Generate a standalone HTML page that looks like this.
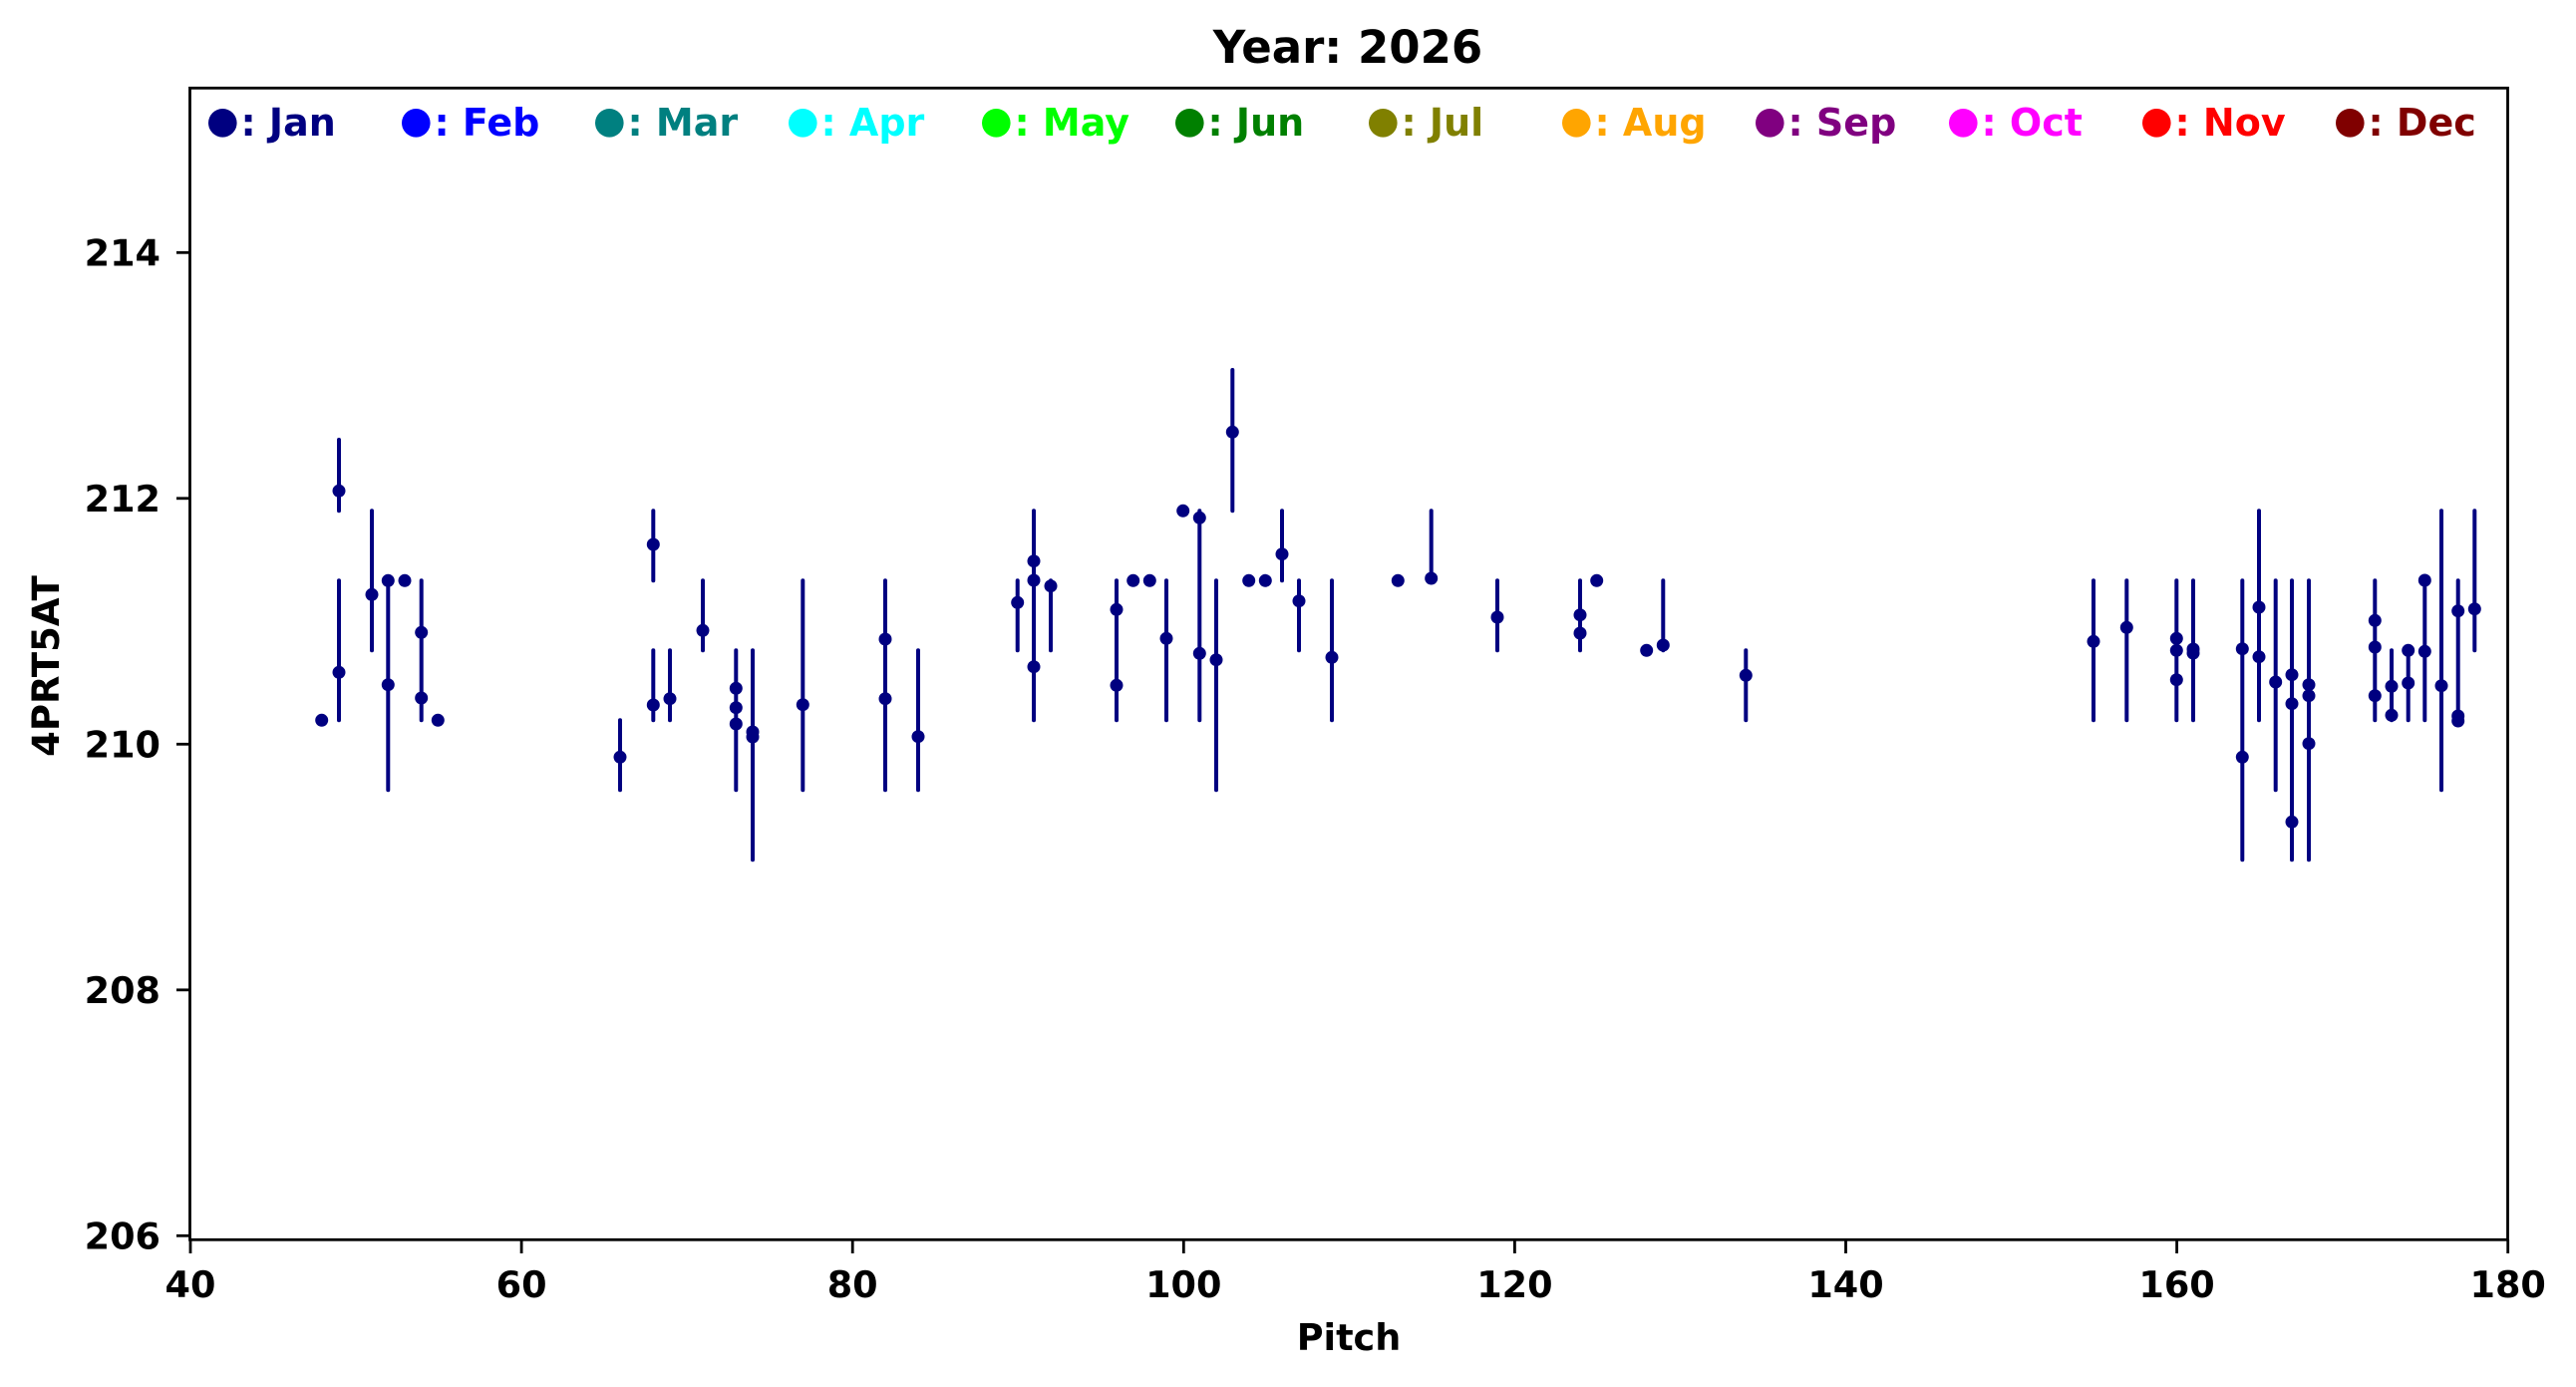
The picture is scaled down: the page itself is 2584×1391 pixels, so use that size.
<!DOCTYPE html>
<html><head><meta charset="utf-8"><style>
html,body{margin:0;padding:0;background:#fff;}
svg{display:block;}
text{font-family:"DejaVu Sans","Liberation Sans",sans-serif;font-weight:bold;}
</style></head><body>
<svg width="2584" height="1391" viewBox="0 0 2584 1391" xmlns="http://www.w3.org/2000/svg">
<rect width="2584" height="1391" fill="#fff"/>
<text x="1352" y="63" font-size="45" text-anchor="middle" fill="#000">Year: 2026</text>
<g stroke="#000080" stroke-width="4" stroke-linecap="round" fill="none">
<line x1="340" y1="441" x2="340" y2="512.3"/>
<line x1="340" y1="582.3" x2="340" y2="722.3"/>
<line x1="373" y1="512.3" x2="373" y2="652.3"/>
<line x1="389.3" y1="582.3" x2="389.3" y2="792.3"/>
<line x1="422.7" y1="582.3" x2="422.7" y2="722.3"/>
<line x1="622" y1="722.3" x2="622" y2="792.3"/>
<line x1="655.3" y1="512.3" x2="655.3" y2="582.3"/>
<line x1="655.3" y1="652.3" x2="655.3" y2="722.3"/>
<line x1="672" y1="652.3" x2="672" y2="722.3"/>
<line x1="705" y1="582.3" x2="705" y2="652.3"/>
<line x1="738.3" y1="652.3" x2="738.3" y2="792.3"/>
<line x1="755" y1="652.3" x2="755" y2="862.3"/>
<line x1="805.3" y1="582.3" x2="805.3" y2="792.3"/>
<line x1="888" y1="582.3" x2="888" y2="792.3"/>
<line x1="921" y1="652.3" x2="921" y2="792.3"/>
<line x1="1020.7" y1="582.3" x2="1020.7" y2="652.3"/>
<line x1="1037" y1="512.3" x2="1037" y2="722.3"/>
<line x1="1054" y1="582.3" x2="1054" y2="652.3"/>
<line x1="1120" y1="582.3" x2="1120" y2="722.3"/>
<line x1="1170" y1="582.3" x2="1170" y2="722.3"/>
<line x1="1203.3" y1="512.3" x2="1203.3" y2="722.3"/>
<line x1="1220" y1="582.3" x2="1220" y2="792.3"/>
<line x1="1236.3" y1="371" x2="1236.3" y2="512.3"/>
<line x1="1286" y1="512.3" x2="1286" y2="582.3"/>
<line x1="1303" y1="582.3" x2="1303" y2="652.3"/>
<line x1="1336" y1="582.3" x2="1336" y2="722.3"/>
<line x1="1435.7" y1="512.3" x2="1435.7" y2="580"/>
<line x1="1502" y1="582.3" x2="1502" y2="652.3"/>
<line x1="1585" y1="582.3" x2="1585" y2="652.3"/>
<line x1="1668.3" y1="582.3" x2="1668.3" y2="652.3"/>
<line x1="1751.3" y1="652.3" x2="1751.3" y2="722.3"/>
<line x1="2100" y1="582.3" x2="2100" y2="722.3"/>
<line x1="2133.3" y1="582.3" x2="2133.3" y2="722.3"/>
<line x1="2183.3" y1="582.3" x2="2183.3" y2="722.3"/>
<line x1="2200" y1="582.3" x2="2200" y2="722.3"/>
<line x1="2249.3" y1="582.3" x2="2249.3" y2="862.3"/>
<line x1="2266" y1="512.3" x2="2266" y2="722.3"/>
<line x1="2282.7" y1="582.3" x2="2282.7" y2="792.3"/>
<line x1="2299" y1="582.3" x2="2299" y2="862.3"/>
<line x1="2316" y1="582.3" x2="2316" y2="862.3"/>
<line x1="2382.3" y1="582.3" x2="2382.3" y2="722.3"/>
<line x1="2399" y1="652.3" x2="2399" y2="722.3"/>
<line x1="2415.7" y1="652.3" x2="2415.7" y2="722.3"/>
<line x1="2432.3" y1="582.3" x2="2432.3" y2="722.3"/>
<line x1="2449" y1="512.3" x2="2449" y2="792.3"/>
<line x1="2465.7" y1="582.3" x2="2465.7" y2="722.3"/>
<line x1="2482.3" y1="512.3" x2="2482.3" y2="652.3"/>
</g>
<g fill="#000080">
<circle cx="322.7" cy="722.3" r="6.5"/>
<circle cx="340" cy="492.3" r="6.5"/>
<circle cx="340" cy="674.3" r="6.5"/>
<circle cx="373" cy="596.3" r="6.5"/>
<circle cx="389.3" cy="582.3" r="6.5"/>
<circle cx="389.3" cy="686.7" r="6.5"/>
<circle cx="406" cy="582.3" r="6.5"/>
<circle cx="422.7" cy="634.3" r="6.5"/>
<circle cx="422.7" cy="700" r="6.5"/>
<circle cx="439.3" cy="722.3" r="6.5"/>
<circle cx="622" cy="759.3" r="6.5"/>
<circle cx="655.3" cy="546" r="6.5"/>
<circle cx="655.3" cy="707" r="6.5"/>
<circle cx="672" cy="700.7" r="6.5"/>
<circle cx="705" cy="632.3" r="6.5"/>
<circle cx="738.3" cy="690.3" r="6.5"/>
<circle cx="738.3" cy="709.7" r="6.5"/>
<circle cx="738.3" cy="726" r="6.5"/>
<circle cx="755" cy="734" r="6.5"/>
<circle cx="755" cy="739" r="6.5"/>
<circle cx="805.3" cy="706.7" r="6.5"/>
<circle cx="888" cy="641" r="6.5"/>
<circle cx="888" cy="700.7" r="6.5"/>
<circle cx="921" cy="738.7" r="6.5"/>
<circle cx="1020.7" cy="604.3" r="6.5"/>
<circle cx="1037" cy="562.7" r="6.5"/>
<circle cx="1037" cy="582" r="6.5"/>
<circle cx="1037" cy="668.7" r="6.5"/>
<circle cx="1054" cy="587.7" r="6.5"/>
<circle cx="1120" cy="611.3" r="6.5"/>
<circle cx="1120" cy="687.3" r="6.5"/>
<circle cx="1136.7" cy="582.3" r="6.5"/>
<circle cx="1153.3" cy="582.3" r="6.5"/>
<circle cx="1170" cy="640.3" r="6.5"/>
<circle cx="1186.7" cy="512.3" r="6.5"/>
<circle cx="1203.3" cy="519.3" r="6.5"/>
<circle cx="1203.3" cy="655.3" r="6.5"/>
<circle cx="1220" cy="661.7" r="6.5"/>
<circle cx="1236.3" cy="433.3" r="6.5"/>
<circle cx="1252.7" cy="582.3" r="6.5"/>
<circle cx="1269.3" cy="582.3" r="6.5"/>
<circle cx="1286" cy="555.7" r="6.5"/>
<circle cx="1303" cy="602.7" r="6.5"/>
<circle cx="1336" cy="659.3" r="6.5"/>
<circle cx="1402.3" cy="582.3" r="6.5"/>
<circle cx="1435.7" cy="580" r="6.5"/>
<circle cx="1502" cy="619" r="6.5"/>
<circle cx="1585" cy="616.7" r="6.5"/>
<circle cx="1585" cy="635" r="6.5"/>
<circle cx="1601.7" cy="582.3" r="6.5"/>
<circle cx="1651.7" cy="652.3" r="6.5"/>
<circle cx="1668.3" cy="647" r="6.5"/>
<circle cx="1751.3" cy="677.3" r="6.5"/>
<circle cx="2100" cy="643.3" r="6.5"/>
<circle cx="2133.3" cy="629.3" r="6.5"/>
<circle cx="2183.3" cy="640.3" r="6.5"/>
<circle cx="2183.3" cy="652.3" r="6.5"/>
<circle cx="2183.3" cy="681.7" r="6.5"/>
<circle cx="2200" cy="651" r="6.5"/>
<circle cx="2200" cy="655" r="6.5"/>
<circle cx="2249.3" cy="650.7" r="6.5"/>
<circle cx="2249.3" cy="759.3" r="6.5"/>
<circle cx="2266" cy="609" r="6.5"/>
<circle cx="2266" cy="658.7" r="6.5"/>
<circle cx="2282.7" cy="684" r="6.5"/>
<circle cx="2299" cy="676.7" r="6.5"/>
<circle cx="2299" cy="705.7" r="6.5"/>
<circle cx="2299" cy="824.3" r="6.5"/>
<circle cx="2316" cy="686.7" r="6.5"/>
<circle cx="2316" cy="697.7" r="6.5"/>
<circle cx="2316" cy="745.7" r="6.5"/>
<circle cx="2382.3" cy="622.3" r="6.5"/>
<circle cx="2382.3" cy="649" r="6.5"/>
<circle cx="2382.3" cy="697.7" r="6.5"/>
<circle cx="2399" cy="688.3" r="6.5"/>
<circle cx="2399" cy="717.3" r="6.5"/>
<circle cx="2415.7" cy="652.3" r="6.5"/>
<circle cx="2415.7" cy="685" r="6.5"/>
<circle cx="2432.3" cy="582" r="6.5"/>
<circle cx="2432.3" cy="653.3" r="6.5"/>
<circle cx="2449" cy="687.7" r="6.5"/>
<circle cx="2465.7" cy="612.7" r="6.5"/>
<circle cx="2465.7" cy="718" r="6.5"/>
<circle cx="2465.7" cy="723" r="6.5"/>
<circle cx="2482.3" cy="610.7" r="6.5"/>
</g>
<rect x="190.5" y="88.3" width="2325" height="1155" fill="none" stroke="#000" stroke-width="2.8"/>
<g stroke="#000" stroke-width="2.8">
<line x1="177" y1="253.3" x2="190.5" y2="253.3"/>
<line x1="177" y1="499.8" x2="190.5" y2="499.8"/>
<line x1="177" y1="746.3" x2="190.5" y2="746.3"/>
<line x1="177" y1="992.8" x2="190.5" y2="992.8"/>
<line x1="177" y1="1239.3" x2="190.5" y2="1239.3"/>
<line x1="191" y1="1243.3" x2="191" y2="1257"/>
<line x1="523.1" y1="1243.3" x2="523.1" y2="1257"/>
<line x1="855.2" y1="1243.3" x2="855.2" y2="1257"/>
<line x1="1187.3" y1="1243.3" x2="1187.3" y2="1257"/>
<line x1="1519.4" y1="1243.3" x2="1519.4" y2="1257"/>
<line x1="1851.5" y1="1243.3" x2="1851.5" y2="1257"/>
<line x1="2183.6" y1="1243.3" x2="2183.6" y2="1257"/>
<line x1="2515.7" y1="1243.3" x2="2515.7" y2="1257"/>
</g>
<g font-size="36.6" text-anchor="end" fill="#000">
<text x="161" y="266.5">214</text>
<text x="161" y="513">212</text>
<text x="161" y="759.5">210</text>
<text x="161" y="1006">208</text>
<text x="161" y="1252.5">206</text>
</g>
<g font-size="36.6" text-anchor="middle" fill="#000">
<text x="191" y="1301">40</text>
<text x="523.1" y="1301">60</text>
<text x="855.2" y="1301">80</text>
<text x="1187.3" y="1301">100</text>
<text x="1519.4" y="1301">120</text>
<text x="1851.5" y="1301">140</text>
<text x="2183.6" y="1301">160</text>
<text x="2515.7" y="1301">180</text>
</g>
<text x="1353" y="1354" font-size="36.6" text-anchor="middle" fill="#000">Pitch</text>
<text transform="translate(59,668) rotate(-90)" font-size="37" text-anchor="middle" fill="#000">4PRT5AT</text>
<g font-size="38">
<circle cx="223.3" cy="123.3" r="14.3" fill="#000080"/><text x="241.5" y="136" fill="#000080">: Jan</text>
<circle cx="417.3" cy="123.3" r="14.3" fill="#0000ff"/><text x="435.5" y="136" fill="#0000ff">: Feb</text>
<circle cx="611.3" cy="123.3" r="14.3" fill="#008080"/><text x="629.5" y="136" fill="#008080">: Mar</text>
<circle cx="805.3" cy="123.3" r="14.3" fill="#00ffff"/><text x="823.5" y="136" fill="#00ffff">: Apr</text>
<circle cx="999.3" cy="123.3" r="14.3" fill="#00ff00"/><text x="1017.5" y="136" fill="#00ff00">: May</text>
<circle cx="1193.3" cy="123.3" r="14.3" fill="#008000"/><text x="1211.5" y="136" fill="#008000">: Jun</text>
<circle cx="1387.3" cy="123.3" r="14.3" fill="#808000"/><text x="1405.5" y="136" fill="#808000">: Jul</text>
<circle cx="1581.3" cy="123.3" r="14.3" fill="#ffa500"/><text x="1599.5" y="136" fill="#ffa500">: Aug</text>
<circle cx="1775.3" cy="123.3" r="14.3" fill="#800080"/><text x="1793.5" y="136" fill="#800080">: Sep</text>
<circle cx="1969.3" cy="123.3" r="14.3" fill="#ff00ff"/><text x="1987.5" y="136" fill="#ff00ff">: Oct</text>
<circle cx="2163.3" cy="123.3" r="14.3" fill="#ff0000"/><text x="2181.5" y="136" fill="#ff0000">: Nov</text>
<circle cx="2357.3" cy="123.3" r="14.3" fill="#800000"/><text x="2375.5" y="136" fill="#800000">: Dec</text>
</g>
</svg>
</body></html>
